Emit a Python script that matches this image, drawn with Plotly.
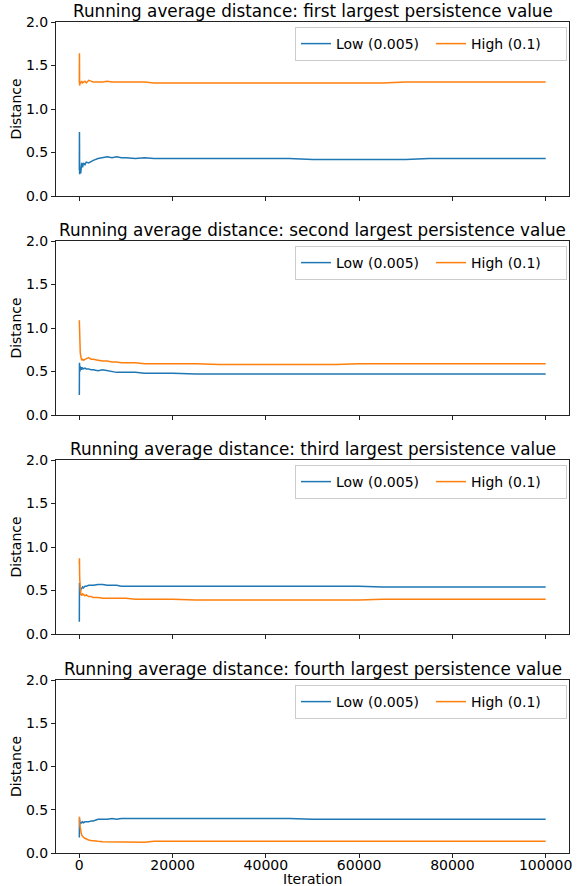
import plotly.graph_objects as go

ITER = [0, 30, 60, 100, 150, 200, 300, 400, 500, 700, 900, 1200, 1500, 2000, 2500, 3000,
        4000, 5000, 6000, 7000, 8000, 9000, 10000, 12000, 14000, 16000, 18000, 20000,
        25000, 30000, 35000, 40000, 45000, 50000, 55000, 60000, 65000, 70000, 75000,
        80000, 85000, 90000, 95000, 100000]

TITLES = [
    "Running average distance: first largest persistence value",
    "Running average distance: second largest persistence value",
    "Running average distance: third largest persistence value",
    "Running average distance: fourth largest persistence value",
]

LOW_1 = [0.30, 0.735, 0.25, 0.47, 0.28, 0.33, 0.26, 0.32, 0.38, 0.33, 0.38, 0.36, 0.39, 0.38, 0.40, 0.41,
         0.43, 0.44, 0.45, 0.44, 0.45, 0.44, 0.44, 0.43, 0.44, 0.43, 0.43, 0.43,
         0.43, 0.43, 0.43, 0.43, 0.43, 0.42, 0.42, 0.42, 0.42, 0.42, 0.43,
         0.43, 0.43, 0.43, 0.43, 0.43]
HIGH_1 = [1.30, 1.64, 1.27, 1.33, 1.30, 1.29, 1.31, 1.30, 1.32, 1.30, 1.31, 1.32, 1.30, 1.33, 1.32, 1.31,
          1.31, 1.31, 1.32, 1.31, 1.31, 1.31, 1.31, 1.31, 1.31, 1.30, 1.30, 1.30,
          1.30, 1.30, 1.30, 1.30, 1.30, 1.30, 1.30, 1.30, 1.30, 1.31, 1.31,
          1.31, 1.31, 1.31, 1.31, 1.31]

LOW_2 = [0.23, 0.60, 0.45, 0.58, 0.50, 0.56, 0.53, 0.55, 0.52, 0.54, 0.53, 0.54, 0.53, 0.53, 0.52, 0.52,
         0.51, 0.52, 0.51, 0.50, 0.49, 0.49, 0.49, 0.49, 0.48, 0.48, 0.48, 0.48,
         0.47, 0.47, 0.47, 0.47, 0.47, 0.47, 0.47, 0.47, 0.47, 0.47, 0.47,
         0.47, 0.47, 0.47, 0.47, 0.47]
HIGH_2 = [1.09, 0.98, 0.95, 0.85, 0.78, 0.72, 0.68, 0.66, 0.63, 0.64, 0.63, 0.64, 0.65, 0.66, 0.64, 0.64,
          0.63, 0.62, 0.62, 0.61, 0.61, 0.60, 0.60, 0.60, 0.59, 0.59, 0.59, 0.59,
          0.59, 0.58, 0.58, 0.58, 0.58, 0.58, 0.58, 0.59, 0.59, 0.59, 0.59,
          0.59, 0.59, 0.59, 0.59, 0.59]

LOW_3 = [0.14, 0.59, 0.40, 0.55, 0.45, 0.52, 0.50, 0.53, 0.52, 0.54, 0.53, 0.55, 0.55, 0.56, 0.56, 0.56,
         0.57, 0.57, 0.56, 0.56, 0.56, 0.55, 0.55, 0.55, 0.55, 0.55, 0.55, 0.55,
         0.55, 0.55, 0.55, 0.55, 0.55, 0.55, 0.55, 0.55, 0.54, 0.54, 0.54,
         0.54, 0.54, 0.54, 0.54, 0.54]
HIGH_3 = [0.80, 0.87, 0.70, 0.62, 0.55, 0.50, 0.47, 0.45, 0.44, 0.46, 0.45, 0.44, 0.45, 0.43, 0.43, 0.42,
          0.42, 0.41, 0.41, 0.41, 0.41, 0.41, 0.41, 0.40, 0.40, 0.40, 0.40, 0.40,
          0.39, 0.39, 0.39, 0.39, 0.39, 0.39, 0.39, 0.39, 0.40, 0.40, 0.40,
          0.40, 0.40, 0.40, 0.40, 0.40]

LOW_4 = [0.18, 0.40, 0.30, 0.36, 0.33, 0.36, 0.34, 0.36, 0.35, 0.36, 0.35, 0.36, 0.36, 0.36, 0.37, 0.37,
         0.39, 0.39, 0.39, 0.40, 0.39, 0.40, 0.40, 0.40, 0.40, 0.40, 0.40, 0.40,
         0.40, 0.40, 0.40, 0.40, 0.40, 0.39, 0.39, 0.39, 0.39, 0.39, 0.39,
         0.39, 0.39, 0.39, 0.39, 0.39]
HIGH_4 = [0.40, 0.42, 0.36, 0.33, 0.30, 0.28, 0.25, 0.23, 0.21, 0.19, 0.18, 0.17, 0.16, 0.15, 0.145, 0.14,
          0.135, 0.13, 0.13, 0.13, 0.13, 0.13, 0.13, 0.13, 0.125, 0.135, 0.135, 0.14,
          0.14, 0.14, 0.14, 0.14, 0.14, 0.14, 0.14, 0.14, 0.135, 0.135, 0.135,
          0.135, 0.135, 0.135, 0.135, 0.135]

LOWS = [LOW_1, LOW_2, LOW_3, LOW_4]
HIGHS = [HIGH_1, HIGH_2, HIGH_3, HIGH_4]
LOW_NAME = "Low (0.005)"
HIGH_NAME = "High (0.1)"
Y_TICKS = [0.0, 0.5, 1.0, 1.5, 2.0]
X_TICKS = [0, 20000, 40000, 60000, 80000, 100000]

W, H = 587, 886
FONT = "DejaVu Sans"
BLUE = "#1f77b4"
ORANGE = "#ff7f0e"
FS = 14
TFS = 16.8

# pixel boxes (top, bottom) for each panel
PANELS = [(22, 196), (241, 415), (460, 634), (680, 853)]
X_LEFT, X_RIGHT = 56, 569

fig = go.Figure()
layout = dict(
    width=W, height=H,
    margin=dict(l=0, r=0, t=0, b=0, autoexpand=False),
    paper_bgcolor="white", plot_bgcolor="white",
    font=dict(family=FONT, size=FS, color="black"),
    showlegend=True,
)
annotations = []
for i in range(4):
    n = i + 1
    xa = "x" if n == 1 else f"x{n}"
    ya = "y" if n == 1 else f"y{n}"
    lg = "legend" if n == 1 else f"legend{n}"
    fig.add_trace(go.Scatter(x=ITER, y=LOWS[i], mode="lines", name=LOW_NAME,
                             line=dict(color=BLUE, width=1.5), xaxis=xa, yaxis=ya, legend=lg))
    fig.add_trace(go.Scatter(x=ITER, y=HIGHS[i], mode="lines", name=HIGH_NAME,
                             line=dict(color=ORANGE, width=1.5), xaxis=xa, yaxis=ya, legend=lg))
    top, bot = PANELS[i]
    xkey = "xaxis" if n == 1 else f"xaxis{n}"
    ykey = "yaxis" if n == 1 else f"yaxis{n}"
    layout[xkey] = dict(
        domain=[X_LEFT / W, X_RIGHT / W], anchor=ya, range=[-5000, 105000],
        tickvals=X_TICKS, ticktext=[str(v) for v in X_TICKS] if n == 4 else [""] * len(X_TICKS),
        showline=True, mirror=True, linecolor="#222", linewidth=1,
        ticks="outside", ticklen=4, tickcolor="#222", showgrid=False, zeroline=False,
        tickfont=dict(size=FS), ticklabelstandoff=-5,
    )
    layout[ykey] = dict(
        domain=[1 - bot / H, 1 - top / H], anchor=xa, range=[0, 2],
        tickvals=Y_TICKS, ticktext=[f"{v:.1f}" for v in Y_TICKS],
        showline=True, mirror=True, linecolor="#222", linewidth=1,
        ticks="outside", ticklen=4, tickcolor="#222", showgrid=False, zeroline=False,
        tickfont=dict(size=FS),
        title=dict(text="Distance", font=dict(size=FS), standoff=1),
    )
    layout[lg] = dict(
        orientation="h", x=(X_RIGHT - 2) / W, xanchor="right",
        y=1 - (top + 5) / H, yanchor="top",
        bgcolor="white", bordercolor="#cccccc", borderwidth=1,
        font=dict(size=FS), entrywidth=90, entrywidthmode="pixels",
    )
    annotations.append(dict(
        text=TITLES[i], xref="paper", yref="paper",
        x=(X_LEFT + X_RIGHT) / 2 / W, y=1 - (top - 10.6) / H,
        xanchor="center", yanchor="middle", showarrow=False,
        font=dict(size=TFS, family=FONT, color="black"),
    ))
annotations.append(dict(
    text="Iteration", xref="paper", yref="paper",
    x=(X_LEFT + X_RIGHT) / 2 / W, y=1 - 879 / H,
    xanchor="center", yanchor="middle", showarrow=False,
    font=dict(size=FS, family=FONT, color="black"),
))
layout["annotations"] = annotations
fig.update_layout(**layout)
fig.write_html("out.html", config={"displayModeBar": False},
               post_script="document.body.style.margin='0px';")
